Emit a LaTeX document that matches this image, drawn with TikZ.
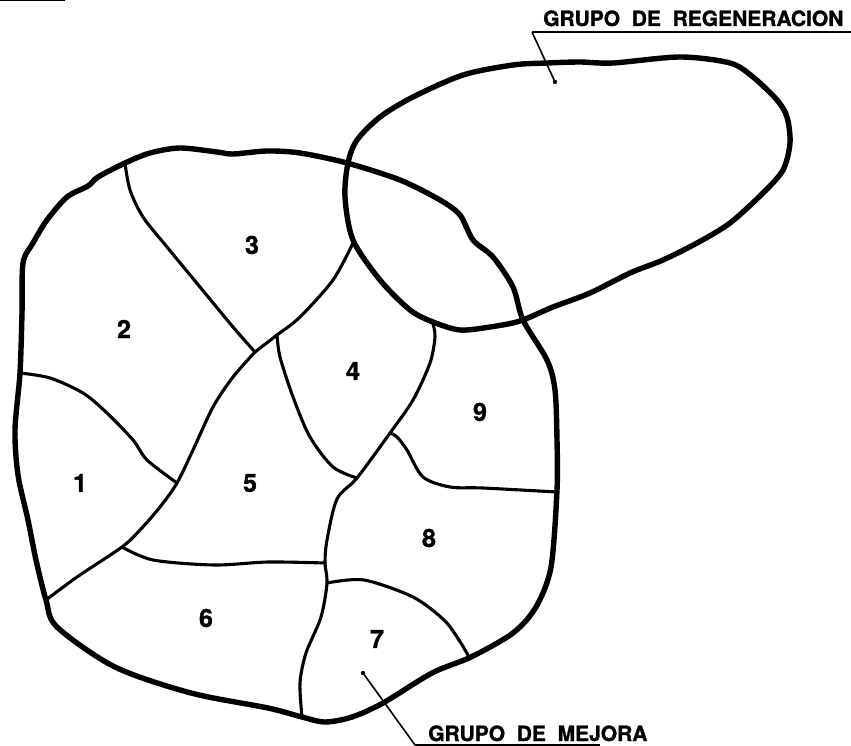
\documentclass[tikz,border=0pt]{standalone}
\usepackage{fontspec}
\newfontfamily\lettering[BoldFeatures={FakeBold=1.2}]{TeX Gyre Heros}
\usepackage{tikz}
\usetikzlibrary{positioning}

\begin{document}
\begin{tikzpicture}[
  x=1pt, y=-1pt,
  rim/.style={line width=5.4pt, line join=round, line cap=round},
  split/.style={line width=3.1pt, line join=round, line cap=round},
  lead/.style={line width=1.6pt},
  num/.style={font=\lettering\bfseries\fontsize{25}{25}\selectfont, inner sep=0pt},
  tag/.style={font=\lettering\bfseries\fontsize{21}{21}\selectfont, inner sep=0pt, anchor=base west}]
  \useasboundingbox (0,0) rectangle (851,746);
  \draw[line width=1.5pt] (0,0.7) -- (65,0.7);

  % junctions
  \coordinate (top23) at (125,163);
  \coordinate (j1) at (255,352);
  \coordinate (j2) at (277,335);
  \coordinate (j3) at (357,478);
  \coordinate (j4) at (177,483);
  \coordinate (j5) at (122,547);
  \coordinate (j6) at (325,563);
  \coordinate (j7) at (390,433);
  \coordinate (j8) at (327,583);

  % outline of the stand
  \draw[rim] plot[smooth cycle, tension=0.5] coordinates {
    (top23) (150,153) (180,148) (217,152) (233,154) (267,151) (300,153) (347,163)
    (400,180) (440,200) (460,215) (473,240) (493,257) (513,287) (523,320)
    (547,360) (555,390) (557,440) (557,490) (551,567) (536,607) (513,633)
    (471,657) (432,673) (383,703) (352,717) (325,722) (302,717) (268,708)
    (191,693) (115,667) (57,627) (46,600) (36,560) (28,520) (18,475) (15,430)
    (20,373) (22,313) (23,263) (33,243) (47,220) (67,197) (88,186) (98,177)};

  % regeneration group
  \draw[rim] plot[smooth cycle, tension=0.5] coordinates {
    (357,140) (380,117) (413,97) (463,75) (513,65) (547,63) (580,62) (613,63)
    (680,57) (730,63) (753,77) (777,100) (787,117) (790,143) (783,170)
    (763,193) (730,223) (697,243) (663,260) (630,273) (590,293) (553,307)
    (520,321) (490,327) (460,330) (433,322) (410,310) (380,280) (353,240)
    (345,197) (348,163)};

  % compartments
  \draw[split] plot[smooth, tension=0.5] coordinates {
    (top23) (130,190) (143,217) (167,247) (200,287) (233,327) (j1)};
  \draw[split] plot[smooth, tension=0.5] coordinates {
    (353,243) (333,280) (300,317) (j2) (j1)};
  \draw[split] plot[smooth, tension=0.5] coordinates {
    (j2) (280,357) (293,397) (310,437) (333,467) (j3)};
  \draw[split] plot[smooth, tension=0.5] coordinates {
    (j1) (233,377) (213,407) (193,450) (j4) (160,507) (140,530) (j5) (77,577) (46,600)};
  \draw[split] plot[smooth, tension=0.5] coordinates {
    (20,373) (50,378) (83,393) (107,413) (133,440) (147,460) (j4)};
  \draw[split] plot[smooth, tension=0.5] coordinates {
    (j5) (153,560) (214,565) (268,562) (j6)};
  \draw[split] plot[smooth, tension=0.5] coordinates {
    (433,324) (435,337) (430,363) (413,400) (j7) (j3) (337,499) (327,540) (j6)
    (j8) (321,617) (306,653) (300,683) (302,717)};
  \draw[split] plot[smooth, tension=0.5] coordinates {
    (j7) (397,437) (407,450) (423,477) (450,487) (483,488) (557,492)};
  \draw[split] plot[smooth, tension=0.5] coordinates {
    (j8) (364,580) (413,597) (444,620) (459,640) (469,657)};

  % numbers
  \node[num] (n1) at (80,483) {1};
  \node[num] (n2) at (124,329) {2};
  \node[num] (n3) at (252,245) {3};
  \node[num] (n4) at (353,371) {4};
  \node[num] (n5) at (250,483) {5};
  \node[num] (n6) at (206,618) {6};
  \node[num] (n7) at (377,639) {7};
  \node[num] (n8) at (429,538) {8};
  \node[num] (n9) at (480,412) {9};

  % labels
  \node[tag] (regen) at (543,26) {GRUPO\ \ DE\ \ REGENERACION};
  \coordinate (regul) at (532,32);
  \coordinate (regend) at (851,32);
  \coordinate (regdot) at (555,82);
  \draw[lead] (regul) -- (regend);
  \draw[lead] (regul) -- (regdot);
  \fill (regdot) circle (2.2pt);

  \node[tag] (mejora) at (428,741) {GRUPO\ \ DE\ \ MEJORA};
  \coordinate (mejul) at (415,745);
  \coordinate (mejend) at (600,745);
  \coordinate (mejdot) at (363,673);
  \draw[lead] (mejul) -- (mejend);
  \draw[lead] (mejul) -- (mejdot);
  \fill (mejdot) circle (2.2pt);
\end{tikzpicture}
\end{document}
